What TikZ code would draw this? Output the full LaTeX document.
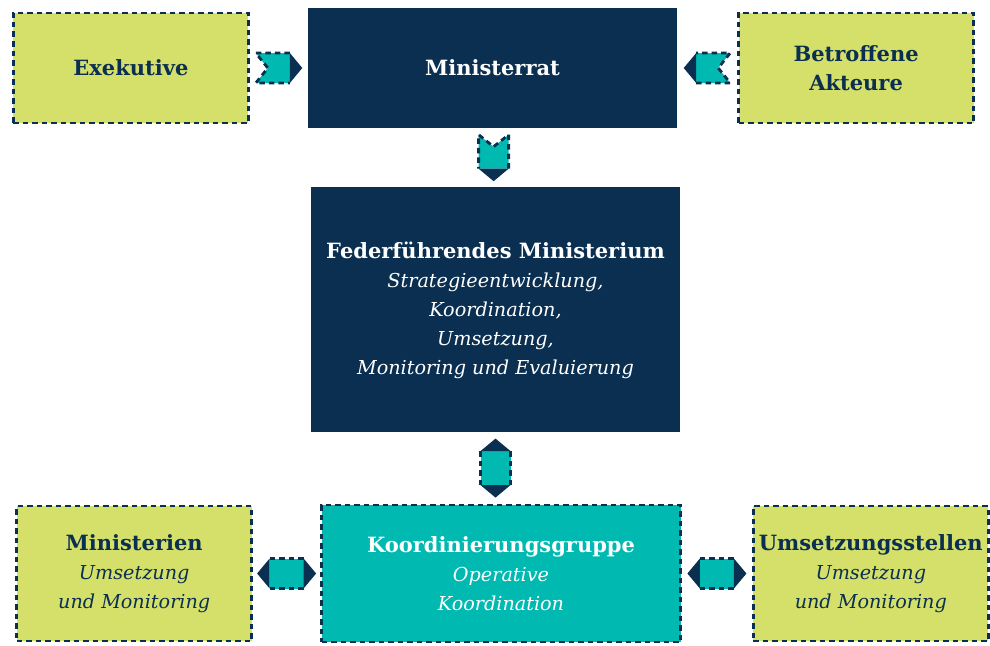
\documentclass[tikz,border=0pt]{standalone}
\usepackage{fontspec}
\setmainfont{DejaVu Serif}
\usetikzlibrary{positioning}

\definecolor{navy}{HTML}{0B2F50}
\definecolor{lime}{HTML}{D4E06A}
\definecolor{aqua}{HTML}{00B9B1}
\newcommand\detail[1]{{\fontsize{19.2}{29}\selectfont\itshape #1}}

\begin{document}
\begin{tikzpicture}[x=1pt,y=-1pt,font=\fontsize{21}{29}\selectfont,
    hub/.style={fill=navy,text=white,align=center,inner sep=0pt,
                minimum width=369pt},
    dashline/.style={draw=navy,line width=2.8pt,dash pattern=on 5.5pt off 4pt},
    actor/.style={dashline,fill=lime,text=navy,align=center,inner sep=0pt,
                  minimum width=235pt},
    pics/oneway/.style={code={
      \fill[aqua] (-23,-15) -- (11,-15) -- (11,15) -- (-23,15) -- (-11,0) -- cycle;
      \fill[navy] (11,-15) -- (23.5,0) -- (11,15) -- cycle;
      \draw[dashline] (11,-15) -- (-23,-15) -- (-11,0) -- (-23,15) -- (11,15);}},
    pics/twoway/.style={code={
      \fill[aqua] (-17,-15) rectangle (17,15);
      \fill[navy] (-17,-15) -- (-29.5,0) -- (-17,15) -- cycle
                  (17,-15) -- (29.5,0) -- (17,15) -- cycle;
      \draw[dashline] (-17,-15) -- (17,-15) (-17,15) -- (17,15);}}]
  \useasboundingbox (0,0) rectangle (990,645);

  % top row
  \node[hub,minimum height=120pt] (rat) at (492.5,68) {\textbf{Ministerrat}};
  \node[actor,minimum height=110pt,left=58pt of rat] (exek) {\textbf{Exekutive}};
  \node[actor,minimum height=110pt,right=60pt of rat] (betr)
       {\textbf{Betroffene}\\\textbf{Akteure}};

  % lead ministry
  \node[hub,minimum height=245pt,below=59pt of rat,xshift=3pt] (fed)
       {\textbf{Federführendes Ministerium}\\\detail{Strategieentwicklung,}\\
        \detail{Koordination,}\\\detail{Umsetzung,}\\
        \detail{Monitoring und Evaluierung}};

  % bottom row
  \node[dashline,fill=aqua,text=white,align=center,inner sep=0pt,
        minimum width=359pt,minimum height=137pt,
        below=71pt of fed,xshift=5.5pt] (koord)
       {\textbf{Koordinierungsgruppe}\\\detail{Operative}\\\detail{Koordination}};
  \node[actor,minimum height=135pt,left=67pt of koord] (minist)
       {\textbf{Ministerien}\\\detail{Umsetzung}\\\detail{und Monitoring}};
  \node[actor,minimum height=135pt,right=70pt of koord] (umset)
       {\textbf{Umsetzungsstellen}\\\detail{Umsetzung}\\\detail{und Monitoring}};

  % connectors
  \path (exek) -- (rat) pic[midway]{oneway};
  \path (rat) -- (betr) pic[midway,rotate=180]{oneway};
  \path (rat) -- (fed) pic[midway,rotate=-90]{oneway};
  \path (fed) -- (fed |- koord.north) pic[midway,rotate=90]{twoway};
  \path (minist) -- (koord) pic[midway]{twoway};
  \path (koord) -- (umset) pic[midway]{twoway};
\end{tikzpicture}
\end{document}
